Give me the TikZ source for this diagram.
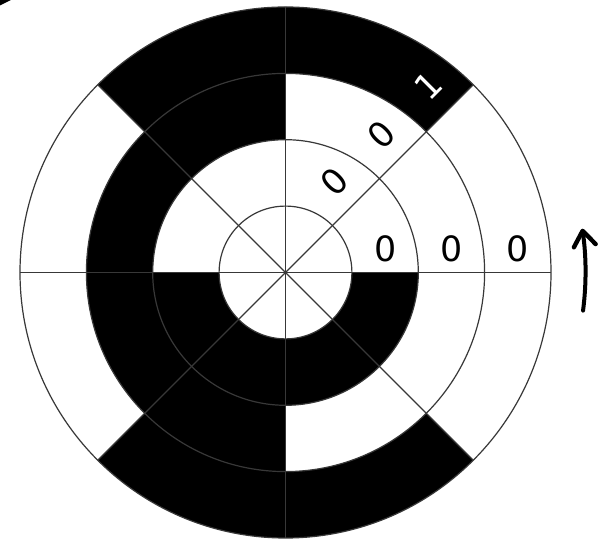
\documentclass[tikz,border=0pt]{standalone}
\usepackage{fontspec}
\setmainfont{DejaVu Sans}
\usetikzlibrary{arrows.meta,calc}
\tikzset{
  gridline/.style={draw=black!78, line width=1.2bp},
  digit/.style={inner sep=0pt, font=\fontsize{35}{35}\selectfont},
  turnarrow/.style={line width=4bp, line cap=round, -{Straight Barb[length=15bp,width=22bp,line width=0pt 1.1,round]}}
}
\newcommand{\annsec}[4]{% inner, outer, start, end
  \fill[black] ($(c)+(#3:#2)$) arc[start angle=#3, end angle=#4, radius=#2]
     -- ($(c)+(#4:#1)$) arc[start angle=#4, end angle=#3, radius=#1] -- cycle;}
\begin{document}
\begin{tikzpicture}[x=1bp,y=1bp]
\useasboundingbox (0,0) rectangle (603,539);
\fill[white] (0,0) rectangle (603,539);
\coordinate (c) at (285.5,266.5);
\def\ra{66.4}\def\rb{132.8}\def\rc{199.1}\def\rd{265.5}
% black sectors
\annsec{\ra}{\rb}{180}{360}
\annsec{\rb}{\rc}{90}{270}
\annsec{\rc}{\rd}{45}{135}
\annsec{\rc}{\rd}{225}{315}
% circles
\foreach \r in {\ra,\rb,\rc,\rd} \draw[gridline] (c) circle[radius=\r];
% diameters
\foreach \a in {0,45,90,135} \draw[gridline] ($(c)+(\a:\rd)$) -- ($(c)+(\a+180:\rd)$);
% labels along 0 deg
\node[digit] (h1) at ($(c)+(99.6,24)$) {0};
\node[digit] (h2) at ($(c)+(166,24)$) {0};
\node[digit] (h3) at ($(c)+(232.3,24)$) {0};
% labels along 45 deg
\node[digit, rotate=45] (d1) at ($(c)+(48.5,91)$) {0};
\node[digit, rotate=45] (d2) at ($(c)+(95.5,138)$) {0};
\node[digit, rotate=45, text=white] (d3) at ($(c)+(142.8,186.5)$) {1};
% rotation arrow
\coordinate (as) at ($(c)+(-7.3:300)$);
\draw[turnarrow] (as) arc[start angle=-7.3, end angle=8.4, radius=300];
% fragment in top-left corner
\fill[black] (0,539) -- (11,539) -- (0,533.5) -- cycle;
\end{tikzpicture}
\end{document}
